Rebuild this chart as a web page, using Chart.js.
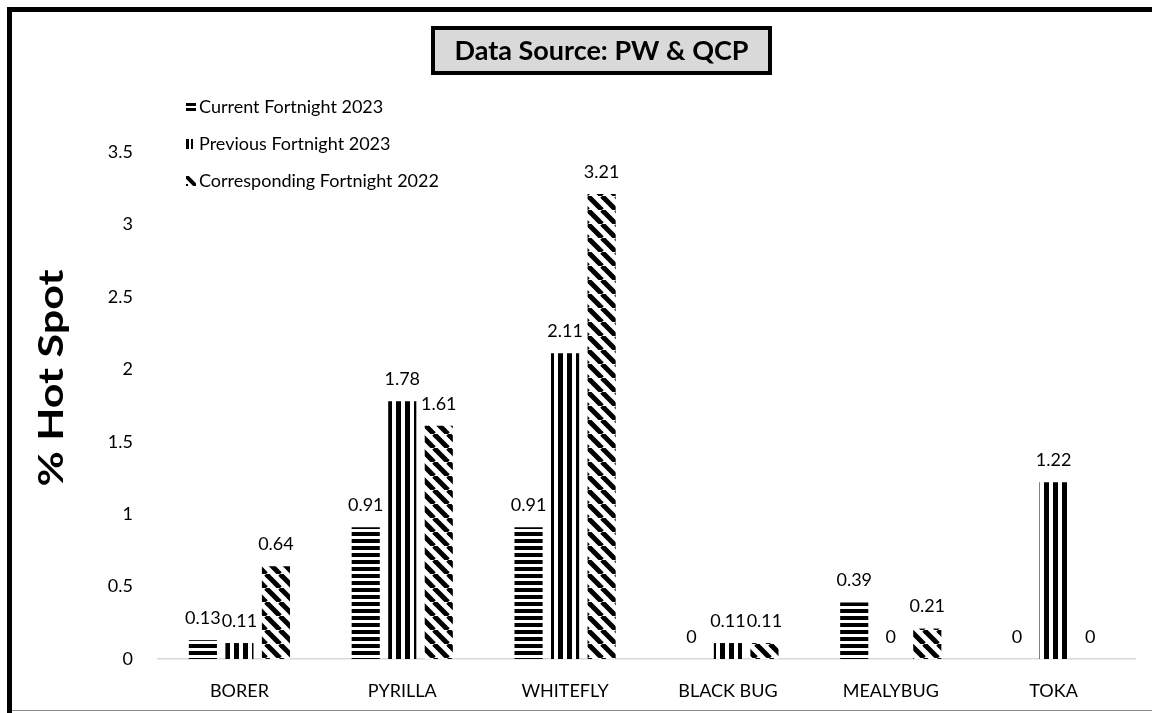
<!DOCTYPE html>
<html>
<head>
<meta charset="utf-8">
<script src="https://cdn.jsdelivr.net/npm/chart.js@4"></script>
<style>
  body { margin: 0; background: #fff; }
  #wrap { position: relative; width: 1152px; height: 713px; }
</style>
</head>
<body>
<div id="wrap"><canvas id="myChart" width="1152" height="713"></canvas></div>
<script>
// data
var categories = ['BORER', 'PYRILLA', 'WHITEFLY', 'BLACK BUG', 'MEALYBUG', 'TOKA'];
var currentFortnight2023 = [0.13, 0.91, 0.91, 0, 0.39, 0];
var previousFortnight2023 = [0.11, 1.78, 2.11, 0.11, 0, 1.22];
var correspondingFortnight2022 = [0.64, 1.61, 3.21, 0.11, 0.21, 0];
var seriesNames = ['Current Fortnight 2023', 'Previous Fortnight 2023', 'Corresponding Fortnight 2022'];
var titleText = 'Data Source: PW & QCP';
var yTitle = '% Hot Spot';

var FONT = 'Lato, "Open Sans", sans-serif';

// hatch fills -------------------------------------------------
function makePattern(kind) {
    var c = document.createElement('canvas');
    var g = c.getContext('2d');
    if (kind == 'h') {
        c.width = 8; c.height = 7;
        g.fillStyle = '#fff'; g.fillRect(0, 0, 8, 7);
        g.fillStyle = '#000'; g.fillRect(0, 0, 8, 4);
    } else if (kind == 'v') {
        c.width = 9; c.height = 9;
        g.fillStyle = '#fff'; g.fillRect(0, 0, 9, 9);
        g.fillStyle = '#000'; g.fillRect(0, 0, 5, 9);
    } else {
        var s = 14;
        c.width = s; c.height = s;
        g.fillStyle = '#fff'; g.fillRect(0, 0, s, s);
        g.strokeStyle = '#000'; g.lineWidth = 5;
        [-s, 0, s].forEach(function (k) {
            g.beginPath(); g.moveTo(k, 0); g.lineTo(k + s, s); g.stroke();
        });
    }
    return g.createPattern(c, 'repeat');
}

// frame, title box, y title, legend and value labels ------------
var decorations = {
    id: 'decorations',
    beforeDraw: function (chart) {
        var g = chart.ctx;
        g.save();
        g.fillStyle = '#fff';
        g.fillRect(0, 0, chart.width, chart.height);
        g.restore();
    },
    afterDraw: function (chart) {
        var g = chart.ctx;
        g.save();
        // outer frame
        g.fillStyle = '#000';
        g.fillRect(7, 7, chart.width - 7, 5);
        g.fillRect(7, 7, 5, chart.height - 7);
        g.fillStyle = '#8c8c8c';
        g.fillRect(12, 710, chart.width - 12, 1);

        // title box
        g.fillStyle = '#d9d9d9';
        g.fillRect(433, 28, 337, 45);
        g.lineWidth = 4;
        g.strokeStyle = '#000';
        g.strokeRect(433, 28, 337, 45);
        g.fillStyle = '#000';
        g.font = 'bold 27px ' + FONT;
        g.textAlign = 'center';
        g.textBaseline = 'middle';
        g.fillText(titleText, 601.5, 51, 312);

        // y axis title, stretched a bit like the original
        g.save();
        g.font = 'bold 35px ' + FONT;
        var w = g.measureText(yTitle).width;
        g.translate(52, 378);
        g.rotate(-Math.PI / 2);
        g.scale(217 / w, 1);
        g.textAlign = 'center';
        g.textBaseline = 'middle';
        g.fillText(yTitle, 0, 0);
        g.restore();

        // legend
        g.font = '18px ' + FONT;
        g.textAlign = 'left';
        g.textBaseline = 'middle';
        var ly = [107, 144, 181];
        for (var i = 0; i < 3; i++) {
            var x = 186, y = ly[i];
            g.fillStyle = '#000';
            if (i == 0) {
                g.fillRect(x, y - 4, 10, 3);
                g.fillRect(x, y + 1, 10, 3);
            } else if (i == 1) {
                g.fillRect(x, y - 5, 3, 10);
                g.fillRect(x + 5, y - 5, 2, 10);
            } else {
                g.save();
                g.beginPath(); g.rect(x, y - 5, 10, 10); g.clip();
                g.lineWidth = 4;
                g.beginPath(); g.moveTo(x - 1, y - 6); g.lineTo(x + 11, y + 6); g.stroke();
                g.fillRect(x, y + 3, 2, 2);
                g.restore();
            }
            g.fillText(chart.data.datasets[i].label, x + 13, y);
        }

        // value labels
        g.font = '18px ' + FONT;
        g.textAlign = 'center';
        g.textBaseline = 'bottom';
        g.fillStyle = '#000';
        chart.data.datasets.forEach(function (ds, di) {
            var meta = chart.getDatasetMeta(di);
            meta.data.forEach(function (bar, j) {
                g.fillText(String(ds.data[j]), bar.x, bar.y - 13);
            });
        });
        g.restore();
    }
};

const ctx = document.getElementById('myChart');

var c = new Chart(ctx, {
    type: 'bar',
    data: {
        labels: categories,
        datasets: [
            { label: seriesNames[0], data: currentFortnight2023, backgroundColor: makePattern('h') },
            { label: seriesNames[1], data: previousFortnight2023, backgroundColor: makePattern('v') },
            { label: seriesNames[2], data: correspondingFortnight2022, backgroundColor: makePattern('d') }
        ]
    },
    options: {
        responsive: false,
        animation: false,
        devicePixelRatio: 1,
        categoryPercentage: 0.673,
        barPercentage: 0.77,
        layout: { padding: { top: 152, right: 17, bottom: 0, left: 0 } },
        plugins: {
            legend: { display: false },
            tooltip: { enabled: false }
        },
        scales: {
            x: {
                grid: { display: false, drawTicks: false },
                border: { color: '#d9d9d9', width: 1.5 },
                ticks: { color: '#000', font: { family: FONT, size: 18 }, padding: 21, maxRotation: 0 },
                afterFit: function (s) { s.height = 54; }
            },
            y: {
                min: 0,
                max: 3.5,
                grid: { display: false, drawTicks: false },
                border: { display: false },
                ticks: {
                    stepSize: 0.5,
                    color: '#000',
                    font: { family: FONT, size: 18 },
                    padding: 25,
                    callback: function (v) { return String(v); }
                },
                afterFit: function (s) { s.width = 158; }
            }
        }
    },
    plugins: [decorations]
});
</script>
</body>
</html>
